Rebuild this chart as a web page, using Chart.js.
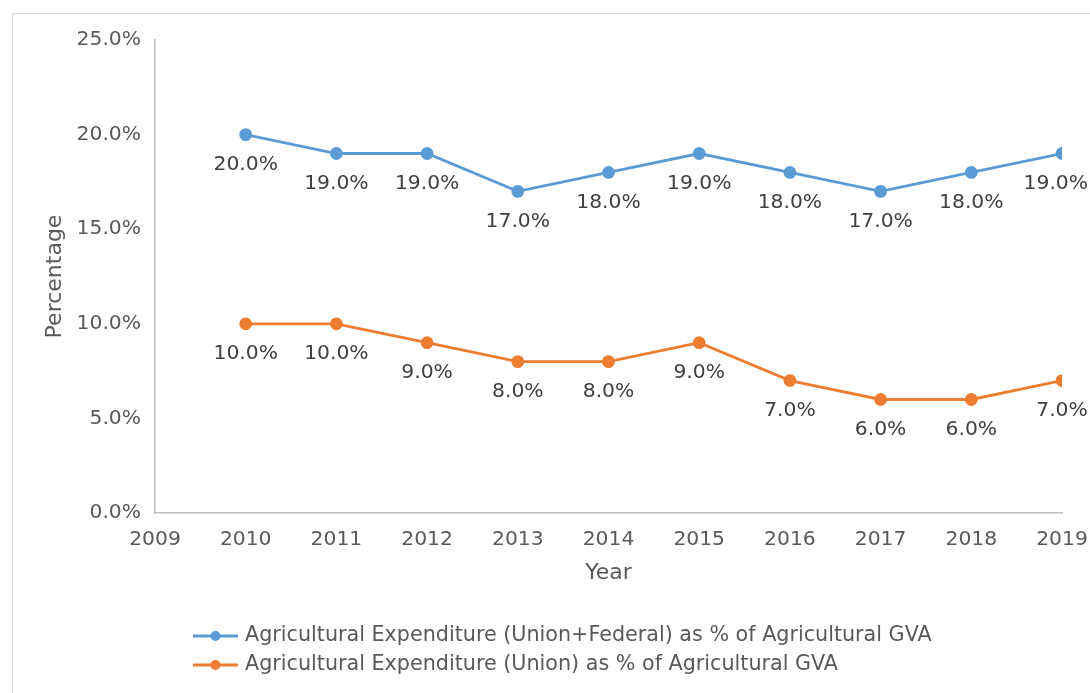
<!DOCTYPE html>
<html>
<head>
<meta charset="utf-8">
<script src="https://cdn.jsdelivr.net/npm/chart.js@4.4.1/dist/chart.umd.min.js"></script>
<style>
  html, body { margin: 0; padding: 0; background: #fff; }
  #wrap { width: 1090px; height: 693px; position: relative; }
</style>
</head>
<body>
<div id="wrap"><canvas id="agriChart" width="1090" height="693"></canvas></div>
<script>
/* Agricultural expenditure share of GVA, 2010-2019 */

const YEARS = [2010, 2011, 2012, 2013, 2014, 2015, 2016, 2017, 2018, 2019];
const UNION_FEDERAL = [20, 19, 19, 17, 18, 19, 18, 17, 18, 19];
const UNION_ONLY = [10, 10, 9, 8, 8, 9, 7, 6, 6, 7];
const SERIES_NAMES = [
    'Agricultural Expenditure (Union+Federal) as % of Agricultural GVA',
    'Agricultural Expenditure (Union) as % of Agricultural GVA',
];
const SERIES_COLORS = ['#5b9bd5', '#ed7d31'];

const FONT = "'DejaVu Sans', sans-serif";
const TEXT_COLOR = '#595959';

const toPoints = (vals) => YEARS.map((yr, i) => ({ x: yr, y: vals[i] }));

// outer chart frame, like a spreadsheet chart object
const framePlugin = {
    id: 'frame',
    beforeDraw(chart) {
        const ctx = chart.ctx;
        ctx.save();
        ctx.strokeStyle = '#d9d9d9';
        ctx.lineWidth = 1;
        ctx.strokeRect(12.5, 13.5, 1200, 800);
        ctx.restore();
    },
};

// value labels under every point
const valueLabels = {
    id: 'valueLabels',
    afterDatasetsDraw(chart) {
        const ctx = chart.ctx;
        ctx.save();
        ctx.font = '20.3px ' + FONT;
        ctx.fillStyle = '#404040';
        ctx.textAlign = 'center';
        ctx.textBaseline = 'middle';
        chart.data.datasets.forEach((ds, di) => {
            const meta = chart.getDatasetMeta(di);
            meta.data.forEach((pt, i) => {
                const txt = ds.data[i].y.toFixed(1) + '%';
                const w = ctx.measureText(txt).width;
                let x = pt.x;
                if (x + w / 2 > chart.width - 2) x = chart.width - 2 - w / 2;
                ctx.fillText(txt, x, pt.y + 30);
            });
        });
        ctx.restore();
    },
};

// two-row legend with line + marker swatches
const lineLegend = {
    id: 'lineLegend',
    afterDraw(chart) {
        const ctx = chart.ctx;
        const left = 193;
        const rows = [636, 665];
        ctx.save();
        ctx.font = '20.7px ' + FONT;
        ctx.textBaseline = 'middle';
        chart.data.datasets.forEach((ds, i) => {
            const y = rows[i];
            ctx.strokeStyle = ds.borderColor;
            ctx.lineWidth = 3;
            ctx.beginPath();
            ctx.moveTo(left, y);
            ctx.lineTo(left + 45, y);
            ctx.stroke();
            ctx.fillStyle = ds.borderColor;
            ctx.beginPath();
            ctx.arc(left + 22.5, y, 5, 0, Math.PI * 2);
            ctx.fill();
            ctx.fillStyle = TEXT_COLOR;
            ctx.fillText(ds.label, left + 52, y);
        });
        ctx.restore();
    },
};

new Chart(document.getElementById('agriChart'), {
    type: 'line',
    data: {
        datasets: SERIES_NAMES.map((name, i) => ({
            label: name,
            data: toPoints(i === 0 ? UNION_FEDERAL : UNION_ONLY),
            borderColor: SERIES_COLORS[i],
            backgroundColor: SERIES_COLORS[i],
            borderWidth: 2.8,
            pointRadius: 5,
            pointHoverRadius: 5,
            tension: 0,
            fill: false,
        })),
    },
    options: {
        responsive: false,
        animation: false,
        events: [],
        layout: { padding: { left: 28, top: 40, right: 28, bottom: 100 } },
        plugins: {
            legend: { display: false },
            tooltip: { enabled: false },
        },
        scales: {
            x: {
                type: 'linear',
                min: 2009,
                max: 2019,
                grid: { display: false, drawTicks: false },
                border: { display: true, color: '#bfbfbf', width: 1.5 },
                ticks: {
                    stepSize: 1,
                    padding: 15,
                    color: TEXT_COLOR,
                    font: { family: FONT, size: 20.3 },
                    callback: (v) => String(v),
                },
                title: {
                    display: true,
                    text: 'Year',
                    color: TEXT_COLOR,
                    font: { family: FONT, size: 22 },
                    padding: { top: 4, bottom: 7 },
                },
                afterFit(scale) {
                    scale.height = 80;
                    // let the last year label overhang the plot edge
                    scale.paddingRight = 0;
                },
            },
            y: {
                min: 0,
                max: 25,
                grid: { display: false, drawTicks: false },
                border: { display: true, color: '#bfbfbf', width: 1.5 },
                ticks: {
                    stepSize: 5,
                    padding: 14,
                    color: TEXT_COLOR,
                    font: { family: FONT, size: 20.3 },
                    callback: (v) => v.toFixed(1) + '%',
                },
                title: {
                    display: true,
                    text: 'Percentage',
                    color: TEXT_COLOR,
                    font: { family: FONT, size: 22 },
                    padding: { top: 14, bottom: 0 },
                },
                afterFit(scale) { scale.width = 127; },
            },
        },
    },
    plugins: [framePlugin, valueLabels, lineLegend],
});
</script>
</body>
</html>
